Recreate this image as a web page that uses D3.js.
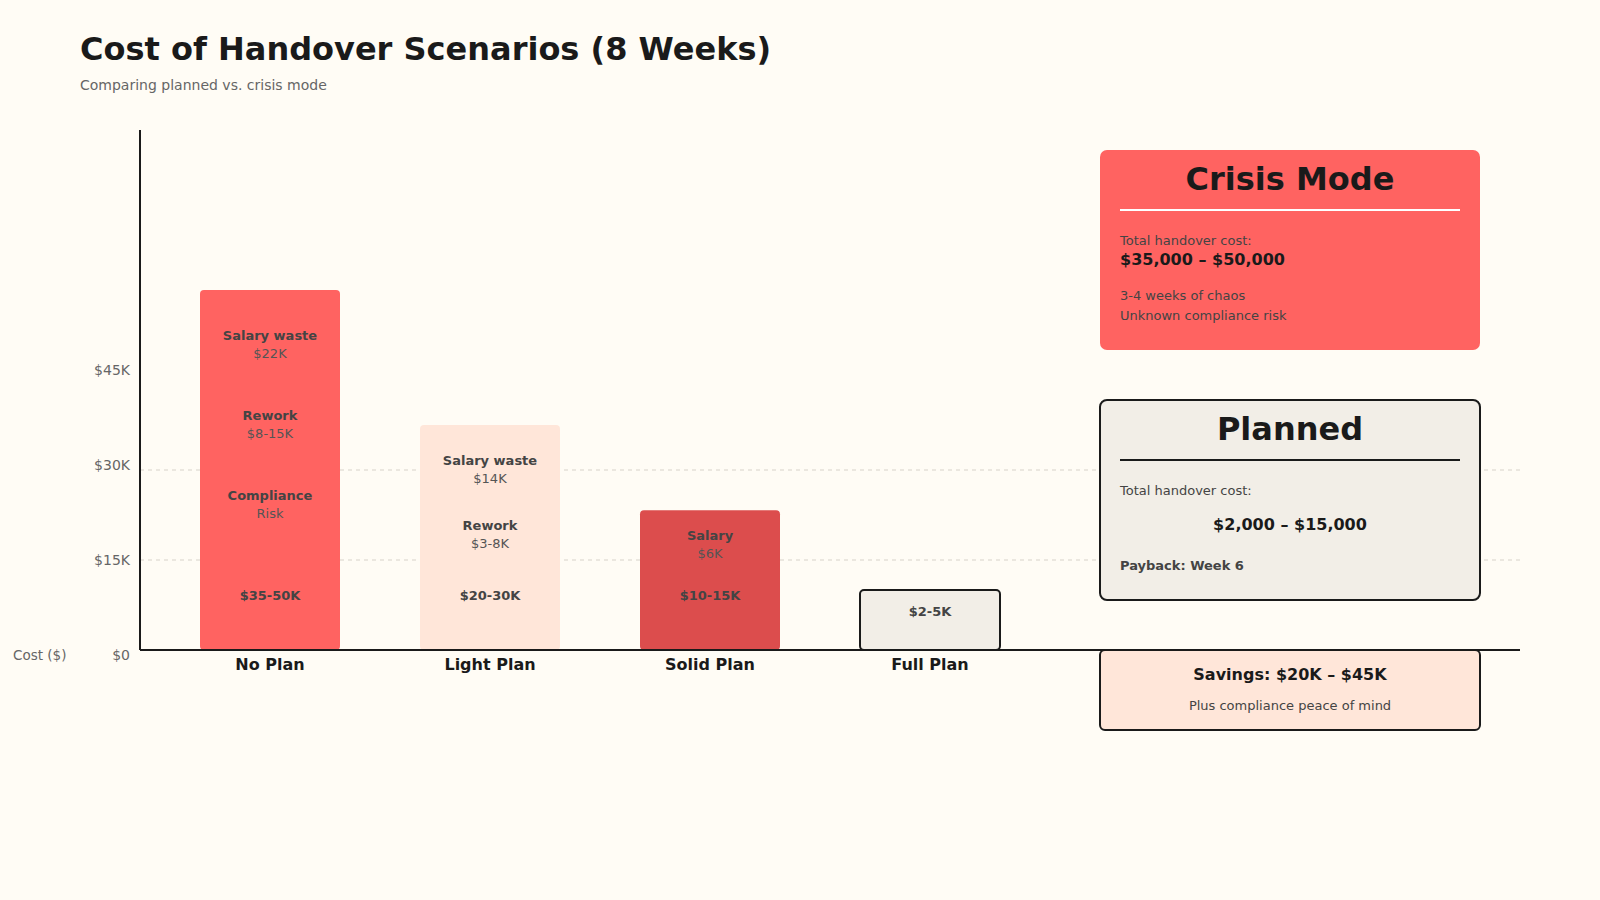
<!DOCTYPE html>
<html>
<head>
<meta charset="utf-8">
<script src="https://cdn.jsdelivr.net/npm/d3@7"></script>
<style>
  html, body { margin: 0; padding: 0; background: #fffcf5; }
  svg { display: block; font-family: "DejaVu Sans", sans-serif; }
</style>
</head>
<body>
<svg id="chart"></svg>
<script>
// Data
const scenarios = ["No Plan", "Light Plan", "Solid Plan", "Full Plan"];
const barCost = [60000, 37500, 23300, 10000];
const totalLabels = ["$35-50K", "$20-30K", "$10-15K", "$2-5K"];
const segmentNames = [["Salary waste", "Rework", "Compliance"], ["Salary waste", "Rework"], ["Salary"], []];
const segmentValues = [["$22K", "$8-15K", "Risk"], ["$14K", "$3-8K"], ["$6K"], []];
const yTicks = [0, 15000, 30000, 45000];
const gridTicks = [15000, 30000];

const crisisLines = ["Total handover cost:", "$35,000 \u2013 $50,000", "3-4 weeks of chaos", "Unknown compliance risk"];
const plannedLines = ["Total handover cost:", "$2,000 \u2013 $15,000", "Payback: Week 6"];
const savingsLines = ["Savings: $20K \u2013 $45K", "Plus compliance peace of mind"];

const barFill = ["#ff6361", "#ffe6d9", "#dc4d4d", "#f2eee7"];

const width = 1600, height = 900;
const ink = "#1a1a1a";

const svg = d3.select("#chart")
    .attr("width", width)
    .attr("height", height);

svg.append("rect").attr("width", width).attr("height", height).attr("fill", "#fffcf5");

// Titles
svg.append("text")
    .attr("x", 80).attr("y", 60)
    .attr("font-size", 32).attr("font-weight", "bold").attr("fill", ink)
    .text("Cost of Handover Scenarios (8 Weeks)");
svg.append("text")
    .attr("x", 80).attr("y", 90)
    .attr("font-size", 14).attr("fill", "#666")
    .text("Comparing planned vs. crisis mode");

// Scales
const x = d3.scaleBand()
    .domain(scenarios)
    .range([160, 1040])
    .paddingInner(80 / 220)
    .paddingOuter(40 / 220);

const y = d3.scaleLinear()
    .domain([0, 60000])
    .range([650, 290]);

// tick labels sit on their own (slightly stretched) scale, as in the original
const yLabel = d3.scaleLinear()
    .domain([0, 45000])
    .range([655, 370]);

// Grid lines
svg.append("g")
    .selectAll("line")
    .data(gridTicks)
    .join("line")
      .attr("x1", 140).attr("x2", 1520)
      .attr("y1", d => y(d)).attr("y2", d => y(d))
      .attr("stroke", "#ebe7df")
      .attr("stroke-width", 2)
      .attr("stroke-dasharray", "4,4");

// Y tick labels
const yAxisG = svg.append("g")
    .attr("transform", "translate(140,0)")
    .call(d3.axisLeft(yLabel)
        .tickValues(yTicks)
        .tickSize(0)
        .tickPadding(10)
        .tickFormat(d => d === 0 ? "$0" : `$${d / 1000}K`));
yAxisG.select(".domain").remove();
yAxisG.selectAll("text")
    .attr("font-family", "DejaVu Sans, sans-serif")
    .attr("font-size", 14)
    .attr("fill", "#666");

svg.append("text")
    .attr("x", 13).attr("y", 660)
    .attr("font-size", 13.5).attr("fill", "#666")
    .text("Cost ($)");

// Bars
const bars = svg.append("g")
    .selectAll("g")
    .data(scenarios.map((s, i) => ({
      name: s, cost: barCost[i], total: totalLabels[i],
      segs: segmentNames[i].map((n, j) => ({ name: n, value: segmentValues[i][j] })),
      fill: barFill[i], idx: i
    })))
    .join("g");

bars.append("rect")
    .attr("x", d => x(d.name))
    .attr("y", d => y(d.cost))
    .attr("width", x.bandwidth())
    .attr("height", d => y(0) - y(d.cost))
    .attr("rx", 4)
    .attr("fill", d => d.fill)
    .attr("stroke", d => d.idx === 3 ? ink : "none")
    .attr("stroke-width", 2);

bars.each(function(d) {
  const g = d3.select(this);
  const cx = x(d.name) + x.bandwidth() / 2;
  const top = y(d.cost);
  const n = d.segs.length;
  const first = top + 20 + 10 * n;
  const step = 35 + 15 * n;

  d.segs.forEach((s, j) => {
    g.append("text")
        .attr("x", cx).attr("y", first + j * step)
        .attr("text-anchor", "middle")
        .attr("font-size", 13).attr("font-weight", "bold").attr("fill", "#444")
        .text(s.name);
    g.append("text")
        .attr("x", cx).attr("y", first + j * step + 18)
        .attr("text-anchor", "middle")
        .attr("font-size", 13).attr("fill", "#555")
        .text(s.value);
  });

  g.append("text")
      .attr("x", cx).attr("y", Math.max(600, top + 26))
      .attr("text-anchor", "middle")
      .attr("font-size", 13).attr("font-weight", "bold").attr("fill", "#444")
      .text(d.total);
});

// X axis labels
const xAxisG = svg.append("g")
    .attr("transform", "translate(0,650)")
    .call(d3.axisBottom(x).tickSize(0).tickPadding(9));
xAxisG.select(".domain").remove();
xAxisG.selectAll("text")
    .attr("font-family", "DejaVu Sans, sans-serif")
    .attr("font-size", 16)
    .attr("font-weight", "bold")
    .attr("fill", ink);

// Axis lines
svg.append("line")
    .attr("x1", 140).attr("x2", 140).attr("y1", 130).attr("y2", 650)
    .attr("stroke", ink).attr("stroke-width", 2);

// Side panels
const px = 1100, pw = 380, tx = 1120, pcx = 1290;

// Crisis Mode
svg.append("rect")
    .attr("x", px).attr("y", 150).attr("width", pw).attr("height", 200)
    .attr("rx", 7).attr("fill", "#ff6361");
svg.append("text")
    .attr("x", pcx).attr("y", 190).attr("text-anchor", "middle")
    .attr("font-size", 32).attr("font-weight", "bold").attr("fill", ink)
    .text("Crisis Mode");
svg.append("line")
    .attr("x1", 1120).attr("x2", 1460).attr("y1", 210).attr("y2", 210)
    .attr("stroke", "#fff").attr("stroke-width", 2);
svg.append("text").attr("x", tx).attr("y", 245)
    .attr("font-size", 13).attr("fill", "#444").text(crisisLines[0]);
svg.append("text").attr("x", tx).attr("y", 265)
    .attr("font-size", 16).attr("font-weight", "bold").attr("fill", ink).text(crisisLines[1]);
svg.append("text").attr("x", tx).attr("y", 300)
    .attr("font-size", 13).attr("fill", "#444").text(crisisLines[2]);
svg.append("text").attr("x", tx).attr("y", 320)
    .attr("font-size", 13).attr("fill", "#444").text(crisisLines[3]);

// Planned
svg.append("rect")
    .attr("x", px).attr("y", 400).attr("width", pw).attr("height", 200)
    .attr("rx", 7).attr("fill", "#f2eee7")
    .attr("stroke", ink).attr("stroke-width", 2);
svg.append("text")
    .attr("x", pcx).attr("y", 440).attr("text-anchor", "middle")
    .attr("font-size", 32).attr("font-weight", "bold").attr("fill", ink)
    .text("Planned");
svg.append("line")
    .attr("x1", 1120).attr("x2", 1460).attr("y1", 460).attr("y2", 460)
    .attr("stroke", ink).attr("stroke-width", 2);
svg.append("text").attr("x", tx).attr("y", 495)
    .attr("font-size", 13).attr("fill", "#444").text(plannedLines[0]);
svg.append("text").attr("x", pcx).attr("y", 530).attr("text-anchor", "middle")
    .attr("font-size", 16).attr("font-weight", "bold").attr("fill", ink).text(plannedLines[1]);
svg.append("text").attr("x", tx).attr("y", 570)
    .attr("font-size", 13).attr("font-weight", "bold").attr("fill", "#444").text(plannedLines[2]);

// X axis baseline
svg.append("line")
    .attr("x1", 140).attr("x2", 1520).attr("y1", 650).attr("y2", 650)
    .attr("stroke", ink).attr("stroke-width", 2);

// Savings
svg.append("rect")
    .attr("x", px).attr("y", 650).attr("width", pw).attr("height", 80)
    .attr("rx", 5).attr("fill", "#ffe6d9")
    .attr("stroke", ink).attr("stroke-width", 2);
svg.append("text").attr("x", pcx).attr("y", 680).attr("text-anchor", "middle")
    .attr("font-size", 16).attr("font-weight", "bold").attr("fill", ink).text(savingsLines[0]);
svg.append("text").attr("x", pcx).attr("y", 710).attr("text-anchor", "middle")
    .attr("font-size", 13).attr("fill", "#444").text(savingsLines[1]);
</script>
</body>
</html>
